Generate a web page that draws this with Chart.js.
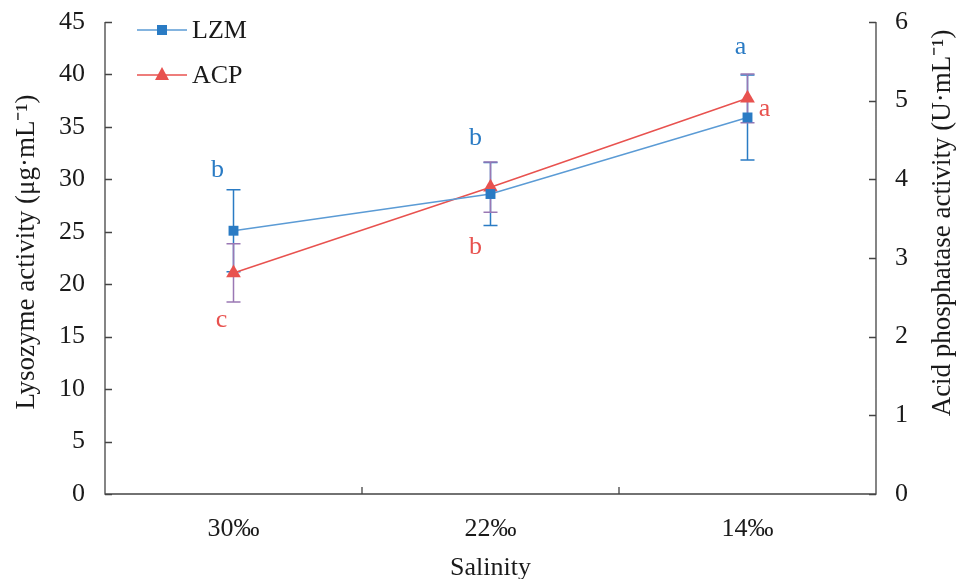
<!DOCTYPE html>
<html>
<head>
<meta charset="utf-8">
<script src="https://cdn.jsdelivr.net/npm/chart.js@4"></script>
<style>
  html, body { margin: 0; padding: 0; background: #fff; }
  #wrap { width: 957px; height: 579px; position: relative; }
</style>
</head>
<body>
<div id="wrap"><canvas id="chart" width="957" height="579"></canvas></div>
<script>
const categories = ["30‰", "22‰", "14‰"];
const lzmValues = [25.1, 28.6, 35.9];
const lzmErrors = [3.9, 3.0, 4.05];
const acpValues = [2.81, 3.9, 5.03];
const acpErrors = [0.37, 0.32, 0.31];
const lzmLetters = ["b", "b", "a"];
const acpLetters = ["c", "b", "a"];
const leftTitle = "Lysozyme activity (μg·mL⁻¹)";
const rightTitle = "Acid phosphatase activity (U·mL⁻¹)";

const BLUE_LINE = "#5b9bd5";
const BLUE_MARK = "#2a7bc4";
const RED = "#e8524f";
const PURPLE = "#9a78b4";
const INK = "#1a1a1a";
const FONT = "'Liberation Serif', 'Times New Roman', serif";

// pixel offsets of the significance letters from each point
const lzmLetterPos = [[-16, -61], [-15, -56], [-7, -70]];
const acpLetterPos = [[-12, 47], [-15, 60], [17, 11]];

const axisTicks = {
  id: "axisTicks",
  afterDraw(chart) {
    const { ctx, chartArea: a, scales } = chart;
    ctx.save();
    ctx.strokeStyle = "#444";
    ctx.lineWidth = 1.3;
    ctx.beginPath();
    ctx.moveTo(a.left, a.top); ctx.lineTo(a.left, a.bottom); ctx.lineTo(a.right, a.bottom); ctx.lineTo(a.right, a.top);
    scales.y.ticks.forEach(t => {
      const y = Math.round(scales.y.getPixelForValue(t.value)) + 0.5;
      ctx.moveTo(a.left, y); ctx.lineTo(a.left + 7, y);
    });
    scales.y1.ticks.forEach(t => {
      const y = Math.round(scales.y1.getPixelForValue(t.value)) + 0.5;
      ctx.moveTo(a.right, y); ctx.lineTo(a.right - 7, y);
    });
    for (let i = 1; i < categories.length; i++) {
      const x = (scales.x.getPixelForValue(i - 1) + scales.x.getPixelForValue(i)) / 2;
      ctx.moveTo(x, a.bottom); ctx.lineTo(x, a.bottom - 7);
    }
    ctx.stroke();

    // axis titles, both reading bottom to top
    ctx.fillStyle = INK;
    ctx.font = "27px " + FONT;
    ctx.textAlign = "center";
    ctx.textBaseline = "middle";
    ctx.translate(27, 252);
    ctx.rotate(-Math.PI / 2);
    ctx.fillText(leftTitle, 0, 0);
    ctx.setTransform(1, 0, 0, 1, 0, 0);
    ctx.translate(943, 223);
    ctx.rotate(-Math.PI / 2);
    ctx.fillText(rightTitle, 0, 0);
    ctx.restore();
  }
};

const errorBars = {
  id: "errorBars",
  beforeDatasetsDraw(chart) {
    const { ctx, scales } = chart;
    const sets = [
      { vals: lzmValues, errs: lzmErrors, axis: scales.y, color: BLUE_MARK },
      { vals: acpValues, errs: acpErrors, axis: scales.y1, color: PURPLE }
    ];
    ctx.save();
    ctx.lineWidth = 1.5;
    sets.forEach(s => {
      ctx.strokeStyle = s.color;
      s.vals.forEach((v, i) => {
        const x = scales.x.getPixelForValue(i);
        const top = s.axis.getPixelForValue(v + s.errs[i]);
        const bot = s.axis.getPixelForValue(v - s.errs[i]);
        ctx.beginPath();
        ctx.moveTo(x, top); ctx.lineTo(x, bot);
        ctx.moveTo(x - 7, top); ctx.lineTo(x + 7, top);
        ctx.moveTo(x - 7, bot); ctx.lineTo(x + 7, bot);
        ctx.stroke();
      });
    });
    ctx.restore();
  },
  afterDatasetsDraw(chart) {
    const { ctx, scales } = chart;
    ctx.save();
    ctx.font = "26px " + FONT;
    ctx.textAlign = "center";
    ctx.textBaseline = "middle";
    lzmLetters.forEach((l, i) => {
      ctx.fillStyle = BLUE_MARK;
      ctx.fillText(l, scales.x.getPixelForValue(i) + lzmLetterPos[i][0], scales.y.getPixelForValue(lzmValues[i]) + lzmLetterPos[i][1]);
    });
    acpLetters.forEach((l, i) => {
      ctx.fillStyle = RED;
      ctx.fillText(l, scales.x.getPixelForValue(i) + acpLetterPos[i][0], scales.y1.getPixelForValue(acpValues[i]) + acpLetterPos[i][1]);
    });

    // legend
    const items = [
      { label: "LZM", line: BLUE_LINE, mark: BLUE_MARK, shape: "rect", y: 30 },
      { label: "ACP", line: RED, mark: RED, shape: "tri", y: 75 }
    ];
    ctx.textAlign = "left";
    ctx.font = "26px " + FONT;
    items.forEach(it => {
      ctx.strokeStyle = it.line;
      ctx.lineWidth = 1.5;
      ctx.beginPath(); ctx.moveTo(137, it.y); ctx.lineTo(187, it.y); ctx.stroke();
      ctx.fillStyle = it.mark;
      if (it.shape === "rect") {
        ctx.fillRect(157, it.y - 5, 10, 10);
      } else {
        ctx.beginPath(); ctx.moveTo(162, it.y - 8); ctx.lineTo(169, it.y + 5); ctx.lineTo(155, it.y + 5); ctx.closePath(); ctx.fill();
      }
      ctx.fillStyle = INK;
      ctx.fillText(it.label, 192, it.y + 1);
    });
    ctx.restore();
  }
};

const tickFont = { family: FONT, size: 26, lineHeight: 1 };
const fitSide = w => s => { s.width = w; s.paddingTop = 0; s.paddingBottom = 0; };

new Chart(document.getElementById("chart"), {
  type: "line",
  data: {
    labels: categories,
    datasets: [
      {
        label: "LZM", data: lzmValues, yAxisID: "y",
        borderColor: BLUE_LINE, borderWidth: 1.5,
        pointStyle: "rect", pointRadius: 7, pointBackgroundColor: BLUE_MARK, pointBorderColor: BLUE_MARK, pointBorderWidth: 0
      },
      {
        label: "ACP", data: acpValues, yAxisID: "y1",
        borderColor: RED, borderWidth: 1.5,
        pointStyle: "triangle", pointRadius: 8.5, pointBackgroundColor: RED, pointBorderColor: RED, pointBorderWidth: 0
      }
    ]
  },
  options: {
    responsive: false,
    animation: false,
    layout: { padding: { top: 22, left: 0, right: 0, bottom: 0 } },
    plugins: { legend: { display: false }, tooltip: { enabled: false } },
    scales: {
      x: {
        offset: true,
        grid: { display: false, drawTicks: false },
        border: { display: false },
        ticks: { color: INK, font: tickFont, padding: 22 },
        title: { display: true, text: "Salinity", color: INK, font: { family: FONT, size: 26, lineHeight: 1 }, padding: { top: 28, bottom: -2 } },
        afterFit: s => { s.height = 85; }
      },
      y: {
        position: "left", min: 0, max: 45,
        ticks: { stepSize: 5, color: INK, font: tickFont, padding: 20 },
        grid: { display: false, drawTicks: false },
        border: { display: false },
        afterFit: fitSide(105)
      },
      y1: {
        position: "right", min: 0, max: 6,
        ticks: { stepSize: 1, color: INK, font: tickFont, padding: 19 },
        grid: { display: false, drawTicks: false },
        border: { display: false },
        afterFit: fitSide(81)
      }
    }
  },
  plugins: [axisTicks, errorBars]
});
</script>
</body>
</html>
